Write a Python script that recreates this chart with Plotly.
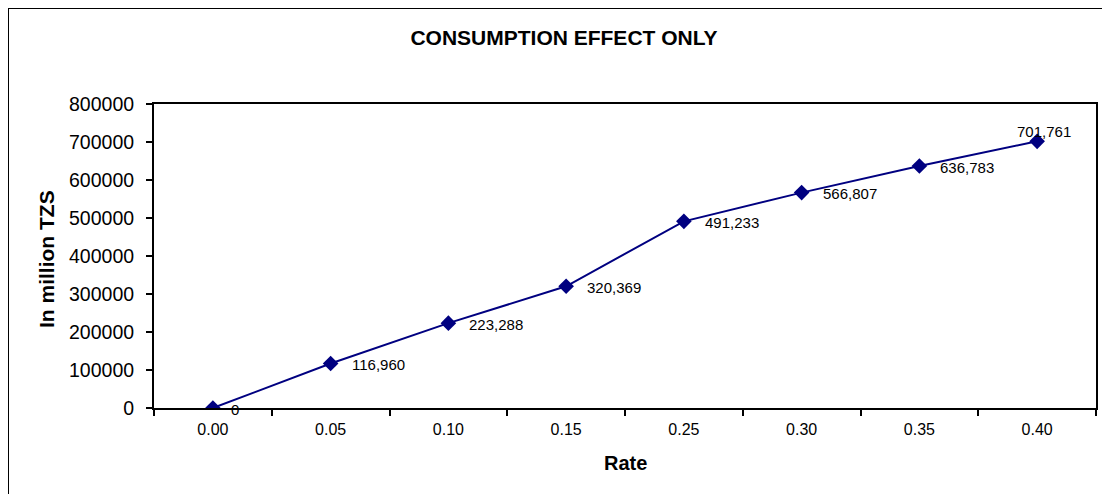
import plotly.graph_objects as go

rates = ["0.00", "0.05", "0.10", "0.15", "0.25", "0.30", "0.35", "0.40"]
values = [0, 116960, 223288, 320369, 491233, 566807, 636783, 701761]
y_ticks = [0, 100000, 200000, 300000, 400000, 500000, 600000, 700000, 800000]

NAVY = "#000080"
FONT = "Liberation Sans, Arial, sans-serif"

# page body has an 8px margin; work in screen coordinates and offset
OFF = 8
W, H = 1110 - OFF, 494 - OFF
PL, PR, PT, PB = 154, 1096, 104, 408  # plot area in screen px
L, R, T, B = PL - OFF, W - (PR - OFF), PT - OFF, H - (PB - OFF)
pw, ph = PR - PL, PB - PT

def px(x):
    return (x - PL) / pw

def py(y):
    return (PB - y) / ph

fig = go.Figure()
fig.add_trace(go.Scatter(
    x=rates, y=values, mode="lines+markers",
    line=dict(color=NAVY, width=2),
    marker=dict(symbol="diamond", size=12, color=NAVY),
    showlegend=False, hoverinfo="x+y",
))

# data labels
for i, v in enumerate(values):
    last = i == len(values) - 1
    fig.add_annotation(
        x=i, y=v, text=f"{v:,}", showarrow=False,
        xanchor="center" if last else "left",
        yanchor="middle",
        xshift=7 if last else (16 if v == 0 else 19),
        yshift=10 if last else -1,
        font=dict(family=FONT, size=15, color="black"),
    )

fig.add_shape(type="rect", xref="paper", yref="paper",
              x0=px(8), x1=px(1130), y0=py(520), y1=py(8),
              line=dict(color="black", width=2), layer="below")

fig.add_annotation(text="<b>In million TZS</b>", xref="paper", yref="paper",
                   x=px(46), y=py(259), textangle=-90, showarrow=False,
                   xanchor="center", yanchor="middle",
                   font=dict(family=FONT, size=21, color="black"))
fig.add_annotation(text="<b>Rate</b>", xref="paper", yref="paper",
                   x=0.5, y=py(463), showarrow=False,
                   xanchor="center", yanchor="middle",
                   font=dict(family=FONT, size=20, color="black"))

fig.update_layout(
    width=W, height=H,
    margin=dict(l=L, r=R, t=T, b=B, pad=0),
    paper_bgcolor="white", plot_bgcolor="white",
    font=dict(family=FONT, color="black"),
    title=dict(text="<b>CONSUMPTION EFFECT ONLY</b>", x=(564 - OFF) / W,
               y=1 - (38 - OFF) / H,
               xanchor="center", yanchor="middle",
               font=dict(family=FONT, size=21, color="black")),
    xaxis=dict(type="category", categoryorder="array", categoryarray=rates,
               range=[-0.5, len(rates) - 0.5],
               showline=True, mirror=True, linecolor="black", linewidth=2,
               ticks="outside", tickson="boundaries", ticklen=6, tickwidth=2,
               tickcolor="black", showgrid=False, zeroline=False,
               tickfont=dict(family=FONT, size=16, color="black"),
               ticklabelstandoff=6),
    yaxis=dict(range=[0, 800000], tickvals=y_ticks,
               ticktext=[str(v) for v in y_ticks],
               showline=True, mirror=True, linecolor="black", linewidth=2,
               ticks="outside", ticklen=6, tickwidth=2, tickcolor="black",
               showgrid=False, zeroline=False,
               tickfont=dict(family=FONT, size=19.5, color="black"),
               ticklabelstandoff=8),
)

fig.write_html("out.html")
